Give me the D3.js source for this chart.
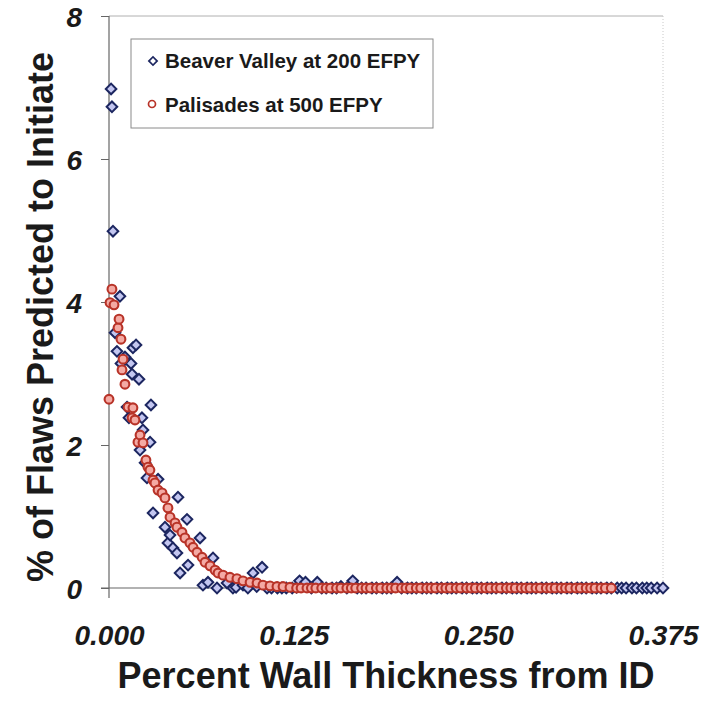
<!DOCTYPE html>
<html>
<head>
<meta charset="utf-8">
<script src="https://cdn.jsdelivr.net/npm/d3@7"></script>
<style>
  body { margin: 0; background: #fff; }
  svg { display: block; font-family: "Liberation Sans", Arial, sans-serif; }
  .tick text { font-weight: bold; font-style: italic; fill: #1a1a1a; }
  .title { font-weight: bold; fill: #1a1a1a; }
  .legend text { font-weight: bold; font-size: 20.5px; fill: #1a1a1a; }
</style>
</head>
<body>
<script>
// data
const seriesNames = ['Beaver Valley at 200 EFPY', 'Palisades at 500 EFPY'];
const xTicks = [0, 0.125, 0.25, 0.375];
const yTicks = [0, 2, 4, 6, 8];

// Beaver Valley, scattered part near the ID
const bvX = [0.0014, 0.0020, 0.0027, 0.0041, 0.0054, 0.0074, 0.0081, 0.0108, 0.0122, 0.0135,
             0.0149, 0.0156, 0.0162, 0.0183, 0.0203, 0.0210, 0.0223, 0.0230, 0.0244, 0.0257,
             0.0278, 0.0284, 0.0298, 0.0332, 0.0379, 0.0399, 0.0413, 0.0433, 0.0460, 0.0467,
             0.0481, 0.0528, 0.0535, 0.0616, 0.0636, 0.0670, 0.0704, 0.0731, 0.0799, 0.0839,
             0.0860, 0.0907, 0.0940, 0.0975, 0.1000, 0.1036];
const bvY = [6.98, 6.73, 4.99, 3.57, 3.31, 4.08, 3.14, 3.23, 2.53, 2.38,
             3.14, 2.99, 3.36, 3.40, 2.92, 1.93, 2.38, 2.21, 1.75, 1.54,
             2.04, 2.56, 1.05, 1.52, 0.85, 0.63, 0.74, 0.56, 0.49, 1.27,
             0.21, 0.96, 0.32, 0.70, 0.04, 0.08, 0.42, 0.00, 0.07, 0.00,
             0.01, 0.04, 0.00, 0.21, 0.02, 0.29];
// Beaver Valley, the floor out to 0.375
const bvTailX = [0.107, 0.110, 0.114, 0.117, 0.120, 0.124, 0.127, 0.129, 0.133, 0.137,
                 0.141, 0.144, 0.147, 0.151, 0.154, 0.157, 0.161, 0.165, 0.168, 0.171,
                 0.174, 0.178, 0.181, 0.185, 0.188, 0.191, 0.195, 0.198, 0.202, 0.205,
                 0.208, 0.212, 0.215, 0.218, 0.222, 0.225, 0.229, 0.232, 0.235, 0.239,
                 0.242, 0.246, 0.249, 0.252, 0.256, 0.259, 0.262, 0.266, 0.269, 0.273,
                 0.276, 0.279, 0.283, 0.286, 0.289, 0.293, 0.296, 0.300, 0.303, 0.306,
                 0.310, 0.313, 0.317, 0.320, 0.323, 0.327, 0.330, 0.333, 0.337, 0.340,
                 0.344, 0.347, 0.350, 0.354, 0.357, 0.361, 0.364, 0.367, 0.371, 0.375];
const bvTailY = [0, 0, 0, 0, 0, 0, 0.01, 0.10, 0.08, 0,
                 0.08, 0, 0, 0, 0, 0.02, 0, 0.10, 0, 0,
                 0, 0, 0, 0, 0, 0, 0.08, 0, 0, 0,
                 0, 0, 0, 0, 0, 0, 0, 0, 0, 0,
                 0, 0, 0, 0, 0, 0, 0, 0, 0, 0,
                 0, 0, 0, 0, 0, 0, 0, 0, 0, 0,
                 0, 0, 0, 0, 0, 0, 0, 0, 0, 0,
                 0, 0, 0, 0, 0, 0, 0, 0, 0, 0];

// Palisades, the decay curve
const palX = [0.0000, 0.0007, 0.0020, 0.0034, 0.0061, 0.0068, 0.0081, 0.0088, 0.0095, 0.0108,
              0.0129, 0.0156, 0.0162, 0.0176, 0.0196, 0.0210, 0.0230, 0.0250, 0.0264, 0.0277,
              0.0298, 0.0311, 0.0332, 0.0359, 0.0379, 0.0399, 0.0413, 0.0447, 0.0460, 0.0494,
              0.0514, 0.0548, 0.0569, 0.0596, 0.0630, 0.0650, 0.0684, 0.0718, 0.0738, 0.0772,
              0.0819, 0.0866, 0.0907, 0.0955, 0.1002, 0.1042, 0.1090, 0.1137, 0.1178, 0.1225];
const palY = [2.64, 3.99, 4.18, 3.96, 3.64, 3.76, 3.48, 3.05, 3.20, 2.85,
              2.53, 2.38, 2.52, 2.35, 2.04, 2.14, 2.03, 1.79, 1.69, 1.65,
              1.51, 1.47, 1.37, 1.33, 1.26, 1.12, 0.99, 0.91, 0.85, 0.78,
              0.70, 0.63, 0.57, 0.50, 0.43, 0.36, 0.31, 0.25, 0.21, 0.18,
              0.15, 0.13, 0.10, 0.08, 0.07, 0.04, 0.03, 0.02, 0.02, 0.01];
// Palisades, the floor
const palTailX = [0.127, 0.130, 0.134, 0.137, 0.140, 0.144, 0.147, 0.150, 0.154, 0.157,
                  0.161, 0.164, 0.167, 0.171, 0.174, 0.177, 0.181, 0.184, 0.188, 0.191,
                  0.194, 0.198, 0.201, 0.204, 0.208, 0.211, 0.215, 0.218, 0.221, 0.225,
                  0.228, 0.231, 0.235, 0.238, 0.242, 0.245, 0.248, 0.252, 0.255, 0.258,
                  0.262, 0.265, 0.269, 0.272, 0.275, 0.279, 0.282, 0.285, 0.289, 0.292,
                  0.296, 0.299, 0.302, 0.306, 0.309, 0.312, 0.316, 0.319, 0.323, 0.326,
                  0.329, 0.333, 0.336, 0.340];
const palTailY = [0, 0, 0, 0, 0, 0, 0, 0, 0, 0, 0, 0, 0, 0, 0, 0,
                  0, 0, 0, 0, 0, 0, 0, 0, 0, 0, 0, 0, 0, 0, 0, 0,
                  0, 0, 0, 0, 0, 0, 0, 0, 0, 0, 0, 0, 0, 0, 0, 0,
                  0, 0, 0, 0, 0, 0, 0, 0, 0, 0, 0, 0, 0, 0, 0, 0];

// layout
const width = 706, height = 701;
const plot = {left: 109, right: 663, top: 16, bottom: 588};

const bvColor = {stroke: '#1c2660', fill: '#c3c6f0'};
const palColor = {stroke: '#b83328', fill: '#f4aaa4'};

const svg = d3.select('body').append('svg')
    .attr('width', width).attr('height', height);
svg.append('rect').attr('width', width).attr('height', height).attr('fill', '#fff');

const x = d3.scaleLinear().domain([0, 0.375]).range([plot.left, plot.right]);
const y = d3.scaleLinear().domain([0, 8]).range([plot.bottom, plot.top]);

// frame: faint top and right edges
svg.append('line')
    .attr('x1', plot.left).attr('x2', plot.right)
    .attr('y1', plot.top).attr('y2', plot.top)
    .attr('stroke', '#b0b0b0').attr('stroke-width', 1);
svg.append('line')
    .attr('x1', plot.right).attr('x2', plot.right)
    .attr('y1', plot.top).attr('y2', plot.bottom)
    .attr('stroke', '#c8c8c8').attr('stroke-width', 1).attr('stroke-dasharray', '1,2');

// y axis
const yAxis = svg.append('g')
    .attr('transform', `translate(${plot.left},0)`)
    .call(d3.axisLeft(y).tickValues(yTicks).tickSize(8).tickPadding(19).tickSizeOuter(0));
yAxis.select('.domain').remove();
yAxis.selectAll('.tick line').attr('stroke', '#666');
yAxis.selectAll('.tick text').attr('font-size', 28).attr('dy', '0.36em');

// x axis, labels only
const xAxis = svg.append('g')
    .attr('transform', `translate(0,${plot.bottom})`)
    .call(d3.axisBottom(x).tickValues(xTicks).tickSize(0).tickPadding(37)
        .tickFormat(d3.format('.3f')));
xAxis.select('.domain').remove();
xAxis.selectAll('.tick text').attr('font-size', 28);

// axis lines
svg.append('line')
    .attr('x1', plot.left).attr('x2', plot.left)
    .attr('y1', plot.top).attr('y2', plot.bottom + 10)
    .attr('stroke', '#666').attr('stroke-width', 1.2);
svg.append('line')
    .attr('x1', plot.left - 8).attr('x2', plot.right)
    .attr('y1', plot.bottom).attr('y2', plot.bottom)
    .attr('stroke', '#666').attr('stroke-width', 1.2);

// markers
const diamond = d3.symbol(d3.symbolSquare, 56);

const bvPts = d3.zip(bvX, bvY).concat(d3.zip(bvTailX, bvTailY));
const palPts = d3.zip(palX, palY).concat(d3.zip(palTailX, palTailY));

svg.append('g').selectAll('path.bv')
    .data(bvPts)
    .join('path')
    .classed('bv', true)
    .attr('d', diamond)
    .attr('transform', d => `translate(${x(d[0])},${y(d[1])}) rotate(45)`)
    .attr('fill', bvColor.fill)
    .attr('stroke', bvColor.stroke)
    .attr('stroke-width', 2);

svg.append('g').selectAll('circle.pal')
    .data(palPts)
    .join('circle')
    .classed('pal', true)
    .attr('cx', d => x(d[0]))
    .attr('cy', d => y(d[1]))
    .attr('r', 4.4)
    .attr('fill', palColor.fill)
    .attr('stroke', palColor.stroke)
    .attr('stroke-width', 2.1);

// legend
const legend = svg.append('g').classed('legend', true);
legend.append('rect')
    .attr('x', 131).attr('y', 39).attr('width', 302).attr('height', 89)
    .attr('fill', '#fff').attr('stroke', '#8a8a8a').attr('stroke-width', 1);
legend.append('path')
    .attr('d', d3.symbol(d3.symbolSquare, 34))
    .attr('transform', 'translate(153,61) rotate(45)')
    .attr('fill', '#fff').attr('stroke', bvColor.stroke).attr('stroke-width', 1.7);
legend.append('circle')
    .attr('cx', 152).attr('cy', 104).attr('r', 3.5)
    .attr('fill', '#fff').attr('stroke', palColor.stroke).attr('stroke-width', 1.7);
legend.selectAll('text')
    .data(seriesNames)
    .join('text')
    .attr('x', 165)
    .attr('y', (d, i) => 68 + i * 44)
    .text(d => d);

// axis titles
svg.append('text').classed('title', true)
    .attr('x', (plot.left + plot.right) / 2).attr('y', 688)
    .attr('text-anchor', 'middle').attr('font-size', 36)
    .text('Percent Wall Thickness from ID');
svg.append('text').classed('title', true)
    .attr('transform', 'translate(53,317) rotate(-90)')
    .attr('text-anchor', 'middle').attr('font-size', 36)
    .text('% of Flaws Predicted to Initiate');
</script>
</body>
</html>
